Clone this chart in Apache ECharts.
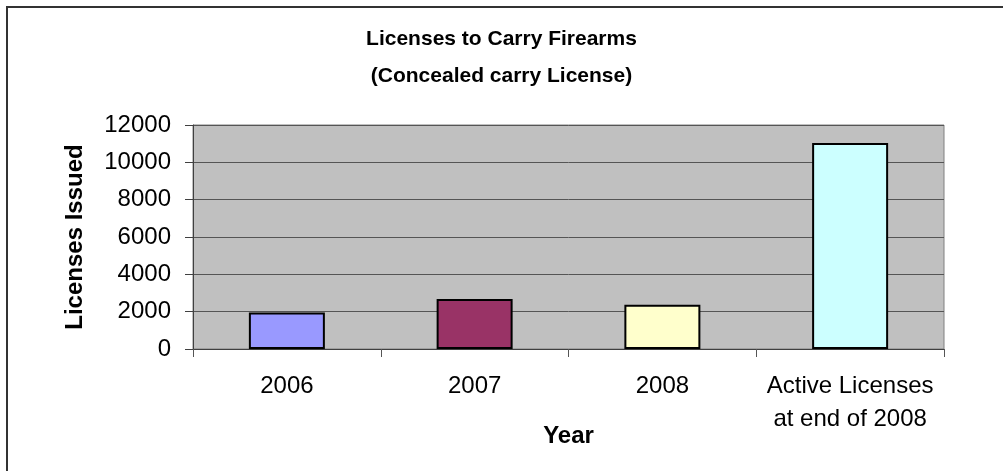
<!DOCTYPE html>
<html>
<head>
<meta charset="utf-8">
<script src="https://cdn.jsdelivr.net/npm/echarts@6/dist/echarts.min.js"></script>
<style>html,body{margin:0;padding:0;background:#fff;}#c{width:1003px;height:471px;}</style>
</head>
<body>
<div id="c"></div>
<script>
var categories = ['2006', '2007', '2008', 'Active Licenses\nat end of 2008'];
var values = [1950, 2680, 2370, 11040];
var barColors = ['#9999FF', '#993366', '#FFFFCC', '#CCFFFF'];
var titleText = 'Licenses to Carry Firearms\n(Concealed carry License)';
var yName = 'Licenses Issued';
var xName = 'Year';

var chart = echarts.init(document.getElementById('c'));
var font = '"Liberation Sans", Arial, sans-serif';
chart.setOption({
  animation: false,
  backgroundColor: '#fff',
  textStyle: { fontFamily: font },
  title: {
    text: titleText,
    left: 'center',
    top: 16,
    textStyle: { fontFamily: font, fontSize: 21, fontWeight: 'bold', color: '#000', lineHeight: 37 }
  },
  graphic: [{
    type: 'polyline',
    shape: { points: [[7, 480], [7, 7], [1010, 7]] },
    style: { stroke: '#333', lineWidth: 2, fill: null }
  }],
  grid: {
    left: 193, right: 59, top: 125, bottom: 122,
    show: true, backgroundColor: '#C0C0C0', borderColor: '#808080', borderWidth: 1
  },
  xAxis: {
    type: 'category',
    data: categories,
    name: xName,
    nameLocation: 'middle',
    nameGap: 75,
    nameMoveOverlap: false,
    nameTextStyle: { fontFamily: font, fontSize: 24, fontWeight: 'bold', color: '#000' },
    axisLine: { lineStyle: { color: '#404040', width: 1 } },
    axisTick: { show: true, alignWithLabel: false, length: 8, lineStyle: { color: '#555' } },
    axisLabel: { fontFamily: font, fontSize: 24, color: '#000', margin: 21, lineHeight: 33, interval: 0 }
  },
  yAxis: {
    type: 'value',
    min: 0, max: 12000, interval: 2000,
    name: yName,
    nameLocation: 'middle',
    nameGap: 106,
    nameRotate: 90,
    nameMoveOverlap: false,
    nameTextStyle: { fontFamily: font, fontSize: 24, fontWeight: 'bold', color: '#000' },
    axisLine: { show: true, lineStyle: { color: '#404040', width: 1 } },
    axisTick: { show: true, length: 8, lineStyle: { color: '#404040' } },
    axisLabel: { fontFamily: font, fontSize: 24, color: '#000', margin: 22, formatter: function (v) { return String(v); } },
    splitLine: { show: true, lineStyle: { color: '#555', width: 1 } }
  },
  series: [{
    type: 'bar',
    barWidth: 76,
    data: values.map(function (v, i) {
      return { value: v, itemStyle: { color: barColors[i] } };
    }),
    itemStyle: { borderColor: '#000', borderWidth: 2 }
  }]
});
</script>
</body>
</html>
